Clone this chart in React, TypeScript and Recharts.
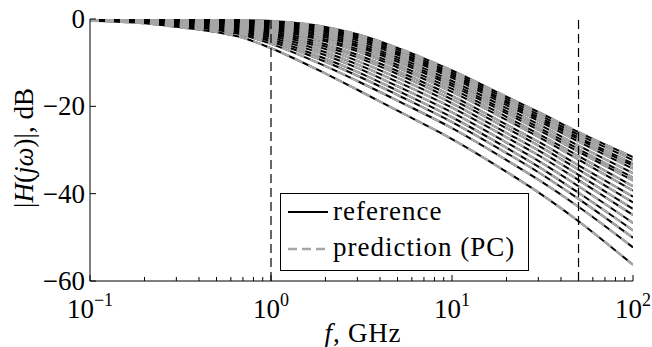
import React from 'react';
import { LineChart, Line, XAxis, YAxis, ReferenceLine, Legend, Label } from 'recharts';

const FREQ_GHZ = [0.1, 0.2, 0.3, 0.5, 0.7, 1, 2, 3, 5, 10, 20, 30, 50, 100];

const C0 = [0, -0.05, -0.08, -0.15, -0.25, -0.45, -1.8, -3.5, -6.6, -11.8, -17.8, -21.3, -25.9, -31.6];
const C1 = [-0.01, -0.08, -0.13, -0.24, -0.37, -0.64, -2.1, -3.9, -7.0, -12.3, -18.3, -21.9, -26.5, -32.3];
const C2 = [-0.02, -0.11, -0.18, -0.32, -0.49, -0.83, -2.4, -4.3, -7.5, -12.7, -18.8, -22.4, -27.1, -33.1];
const C3 = [-0.03, -0.13, -0.22, -0.38, -0.57, -0.95, -2.7, -4.5, -7.8, -13.1, -19.2, -22.8, -27.5, -33.6];
const C4 = [-0.04, -0.16, -0.27, -0.46, -0.7, -1.14, -3.0, -4.9, -8.2, -13.5, -19.7, -23.3, -28.1, -34.3];
const C5 = [-0.06, -0.19, -0.34, -0.58, -0.86, -1.39, -3.4, -5.4, -8.8, -14.2, -20.4, -24.1, -29.0, -35.3];
const C6 = [-0.08, -0.23, -0.41, -0.69, -1.02, -1.64, -3.8, -5.9, -9.3, -14.8, -21.1, -24.8, -29.8, -36.3];
const C7 = [-0.09, -0.26, -0.46, -0.78, -1.14, -1.83, -4.2, -6.3, -9.8, -15.3, -21.6, -25.4, -30.4, -37.0];
const C8 = [-0.11, -0.31, -0.54, -0.92, -1.34, -2.14, -4.7, -6.9, -10.5, -16.0, -22.4, -26.3, -31.4, -38.3];
const C9 = [-0.12, -0.35, -0.61, -1.03, -1.51, -2.39, -5.1, -7.4, -11.1, -16.7, -23.1, -27.0, -32.2, -39.3];
const C10 = [-0.15, -0.4, -0.72, -1.21, -1.75, -2.76, -5.8, -8.2, -11.9, -17.6, -24.2, -28.1, -33.5, -40.7];
const C11 = [-0.17, -0.45, -0.8, -1.35, -1.95, -3.08, -6.3, -8.8, -12.6, -18.4, -25.0, -29.0, -34.5, -42.0];
const C12 = [-0.19, -0.51, -0.91, -1.52, -2.19, -3.45, -6.9, -9.6, -13.5, -19.3, -26.1, -30.1, -35.7, -43.5];
const C13 = [-0.22, -0.56, -1.01, -1.69, -2.44, -3.83, -7.6, -10.4, -14.4, -20.3, -27.1, -31.2, -36.9, -44.9];
const C14 = [-0.24, -0.63, -1.13, -1.89, -2.72, -4.26, -8.3, -11.2, -15.4, -21.4, -28.3, -32.5, -38.3, -46.7];
const C15 = [-0.27, -0.7, -1.25, -2.09, -3.0, -4.7, -9.1, -12.1, -16.4, -22.5, -29.5, -33.8, -39.8, -48.4];
const C16 = [-0.3, -0.76, -1.37, -2.29, -3.29, -5.14, -9.8, -13.0, -17.4, -23.6, -30.7, -35.1, -41.2, -50.1];
const C17 = [-0.34, -0.85, -1.53, -2.54, -3.65, -5.7, -10.8, -14.2, -18.7, -25.0, -32.3, -36.8, -43.0, -52.3];
const C18 = [-0.4, -1.0, -1.8, -3.0, -4.3, -6.7, -12.5, -16.2, -21.0, -27.5, -35.0, -39.7, -46.3, -56.3];

const CURVES = [C0, C1, C2, C3, C4, C5, C6, C7, C8, C9, C10, C11, C12, C13, C14, C15, C16, C17, C18];

const X_TICKS_MAJOR = [0.1, 1, 10, 100];
const X_TICKS_MINOR = [0.2, 0.3, 0.4, 0.5, 0.6, 0.7, 0.8, 0.9, 2, 3, 4, 5, 6, 7, 8, 9, 20, 30, 40, 50, 60, 70, 80, 90];
const X_TICKS = [...X_TICKS_MAJOR, ...X_TICKS_MINOR];
const Y_TICKS = [-60, -40, -20, 0];
const MARKER_FREQS = [1, 50];
const SERIES_NAMES = ['reference', 'prediction (PC)'];

const FF = 'Liberation Serif';
const FS = 27;
const GREY = '#a6a6a6';

const rows = FREQ_GHZ.map((f, i) => {
  const r: Record<string, number> = { f };
  CURVES.forEach((c, j) => {
    r['c' + j] = c[i];
  });
  return r;
});

const fmtExp = (v: number) => {
  const e = Math.round(Math.log10(v));
  return e < 0 ? '\u2212' + String(-e) : String(e);
};

const XTickBottom = (props: any) => {
  const { x, y, payload } = props;
  const v = payload.value;
  const major = X_TICKS_MAJOR.includes(v);
  return (
    <g>
      <line x1={x} x2={x} y1={y} y2={y - (major ? 6 : 4)} stroke="#000" strokeWidth={1} />
      {major && (
        <text x={x} y={y + 37} textAnchor="middle" fontFamily={FF} style={{ fontFamily: FF }} fontSize={FS} fill="#000">
          <tspan>10</tspan>
          <tspan dy={-12} fontSize={18}>{fmtExp(v)}</tspan>
        </text>
      )}
    </g>
  );
};

const XTickTop = (props: any) => {
  const { x, y, payload } = props;
  const major = X_TICKS_MAJOR.includes(payload.value);
  return <line x1={x} x2={x} y1={y} y2={y + (major ? 6 : 4)} stroke="#000" strokeWidth={1} />;
};

const YTickLeft = (props: any) => {
  const { x, y, payload } = props;
  const v = payload.value;
  return (
    <g>
      <line x1={x} x2={x + 6} y1={y} y2={y} stroke="#000" strokeWidth={1} />
      <text x={x - 5} y={y + 9} textAnchor="end" fontFamily={FF} style={{ fontFamily: FF }} fontSize={FS} fill="#000">
        {v < 0 ? '\u2212' + String(-v) : String(v)}
      </text>
    </g>
  );
};

const YTickRight = (props: any) => {
  const { x, y } = props;
  return <line x1={x} x2={x - 6} y1={y} y2={y} stroke="#000" strokeWidth={1} />;
};

const LegendBox = () => (
  <svg width={250} height={79} style={{ display: 'block' }}>
    <rect x={0.5} y={0.5} width={248} height={77} fill="#fff" stroke="#000" strokeWidth={1} />
    <line x1={8} x2={48} y1={19} y2={19} stroke="#000" strokeWidth={2} />
    <text x={53} y={27} fontFamily={FF} style={{ fontFamily: FF, letterSpacing: 1 }} fontSize={FS} fill="#000">
      {SERIES_NAMES[0]}
    </text>
    <line x1={8} x2={48} y1={56} y2={56} stroke={GREY} strokeWidth={2.5} strokeDasharray="9 5" />
    <text x={53} y={63} fontFamily={FF} style={{ fontFamily: FF, letterSpacing: 1 }} fontSize={FS} fill="#000">
      {SERIES_NAMES[1]}
    </text>
  </svg>
);

const YLabel = () => (
  <text
    x={33}
    y={148}
    transform="rotate(-90, 33, 148)"
    textAnchor="middle"
    fontFamily={FF}
    style={{ fontFamily: FF }}
    fontSize={FS}
    fill="#000"
  >
    <tspan>|</tspan>
    <tspan fontStyle="italic">H</tspan>
    <tspan>(</tspan>
    <tspan fontStyle="italic">j</tspan>
    <tspan fontStyle="italic">ω</tspan>
    <tspan>)|, dB</tspan>
  </text>
);

const XLabel = () => (
  <text x={363} y={342} textAnchor="middle" fontFamily={FF} style={{ fontFamily: FF, letterSpacing: 0.8 }} fontSize={FS} fill="#000">
    <tspan fontStyle="italic">f</tspan>
    <tspan>, GHz</tspan>
  </text>
);

export default function App() {
  return (
    <div style={{ position: 'absolute', left: 0, top: 0, width: 652, height: 347, background: '#fff', fontFamily: FF }}>
      <LineChart width={652} height={347} data={rows} margin={{ top: 19, right: 19, bottom: 0, left: 0 }}>
        <XAxis
          xAxisId="b"
          dataKey="f"
          type="number"
          scale="log"
          domain={[0.1, 100]}
          allowDataOverflow
          ticks={X_TICKS}
          interval={0}
          orientation="bottom"
          height={66}
          tickSize={0}
          tickMargin={0}
          tickLine={false}
          tick={<XTickBottom />}
          axisLine={{ stroke: '#000', strokeWidth: 1 }}
        >
          <Label content={<XLabel />} />
        </XAxis>
        <XAxis
          xAxisId="t"
          dataKey="f"
          type="number"
          scale="log"
          domain={[0.1, 100]}
          allowDataOverflow
          ticks={X_TICKS}
          interval={0}
          orientation="top"
          height={0}
          tickSize={0}
          tickMargin={0}
          tickLine={false}
          tick={<XTickTop />}
          axisLine={{ stroke: '#000', strokeWidth: 1 }}
        />
        <YAxis
          yAxisId="l"
          type="number"
          domain={[-60, 0]}
          allowDataOverflow
          ticks={Y_TICKS}
          interval={0}
          orientation="left"
          width={90}
          tickSize={0}
          tickMargin={0}
          tickLine={false}
          tick={<YTickLeft />}
          axisLine={{ stroke: '#000', strokeWidth: 1 }}
        >
          <Label content={<YLabel />} />
        </YAxis>
        <YAxis
          yAxisId="r"
          type="number"
          domain={[-60, 0]}
          allowDataOverflow
          ticks={Y_TICKS}
          interval={0}
          orientation="right"
          width={0}
          tickSize={0}
          tickMargin={0}
          tickLine={false}
          tick={<YTickRight />}
          axisLine={{ stroke: '#000', strokeWidth: 1 }}
        />
        {CURVES.map((_, j) => (
          <Line
            key={'ref' + j}
            xAxisId="b"
            yAxisId="l"
            dataKey={'c' + j}
            name={SERIES_NAMES[0]}
            type="monotone"
            stroke="#000"
            strokeWidth={2}
            dot={false}
            activeDot={false}
            isAnimationActive={false}
            legendType={j === 0 ? 'line' : 'none'}
          />
        ))}
        {CURVES.map((_, j) => (
          <Line
            key={'pc' + j}
            xAxisId="b"
            yAxisId="l"
            dataKey={'c' + j}
            name={SERIES_NAMES[1]}
            type="monotone"
            stroke={GREY}
            strokeWidth={2.4}
            strokeDasharray="9 6"
            dot={false}
            activeDot={false}
            isAnimationActive={false}
            legendType={j === 0 ? 'line' : 'none'}
          />
        ))}
        {MARKER_FREQS.map((f) => (
          <ReferenceLine
            key={'m' + f}
            xAxisId="b"
            yAxisId="l"
            x={f}
            stroke="#000"
            strokeWidth={1.2}
            strokeDasharray="9 5"
          />
        ))}
        <Legend
          layout="horizontal"
          verticalAlign="middle"
          align="center"
          content={<LegendBox />}
          wrapperStyle={{ position: 'absolute', left: 280, top: 193, width: 250, height: 79 }}
        />
      </LineChart>
    </div>
  );
}
